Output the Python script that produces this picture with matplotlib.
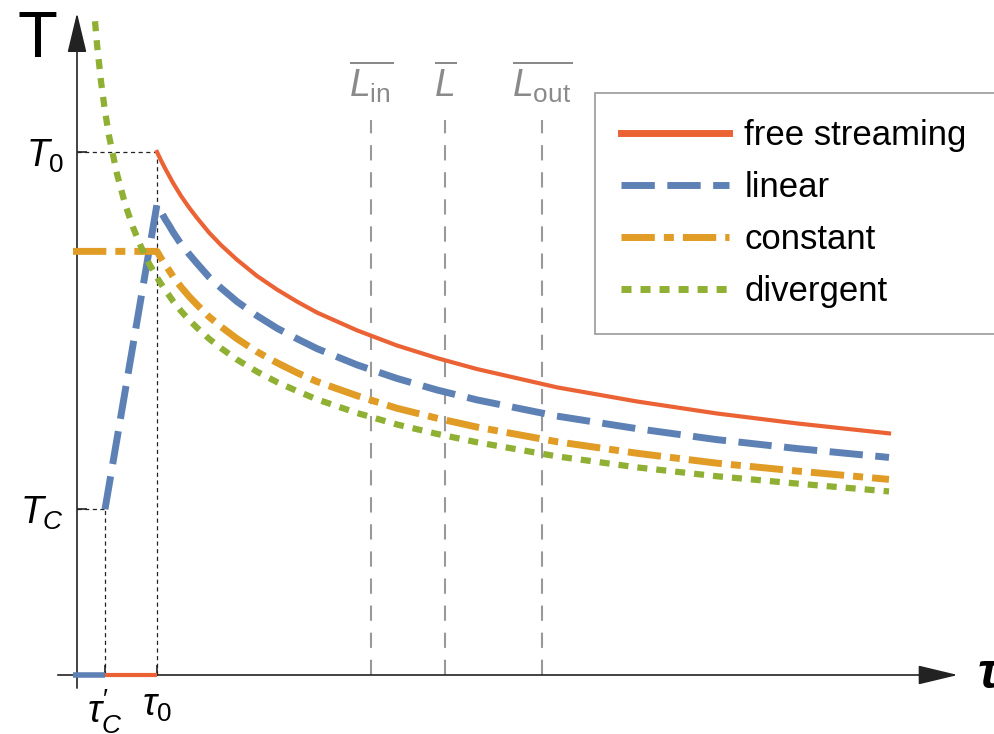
#coding: utf-8

import matplotlib
matplotlib.use('Agg')
import matplotlib.pyplot as plt

# characteristic times / temperatures (tau_0 = 1, T_0 = 1)
tau_0 = 1.0
tau_c = 0.35
T_0 = 1.0
T_c = 0.317

# positions of the vertical reference lines
L_pos = [3.675, 4.6, 5.81]
L_labels = [r'$\overline{L_{\rm in}}$', r'$\overline{L}$', r'$\overline{L_{\rm out}}$']

# times after tau_0, shared by all the decaying branches
tau_tail = [1.0, 1.05, 1.1, 1.15, 1.2, 1.3, 1.4, 1.5, 1.65, 1.8, 2.0, 2.25, 2.5, 2.75,
	3.0, 3.5, 4.0, 4.5, 5.0, 6.0, 7.0, 8.0, 9.0, 10.15]

T_free = [1.000, 0.984, 0.969, 0.955, 0.941, 0.916, 0.894, 0.874, 0.846, 0.822,
	0.794, 0.763, 0.737, 0.714, 0.693, 0.659, 0.630, 0.606, 0.585, 0.550,
	0.523, 0.500, 0.481, 0.462]
T_linear = [0.900, 0.886, 0.872, 0.860, 0.847, 0.824, 0.805, 0.787, 0.761, 0.740,
	0.714, 0.687, 0.663, 0.643, 0.624, 0.593, 0.567, 0.545, 0.526, 0.495,
	0.471, 0.450, 0.433, 0.416]
T_const = [0.810, 0.797, 0.785, 0.774, 0.762, 0.742, 0.724, 0.708, 0.685, 0.666,
	0.643, 0.618, 0.597, 0.578, 0.561, 0.534, 0.510, 0.491, 0.474, 0.446,
	0.424, 0.405, 0.390, 0.374]

# divergent branch, starting before tau_0
tau_div = [0.225, 0.25, 0.3, 0.35, 0.4, 0.5, 0.6, 0.7, 0.8, 0.9] + tau_tail
T_div = [1.250, 1.206, 1.135, 1.078, 1.031, 0.958, 0.901, 0.856, 0.819, 0.787,
	0.760, 0.748, 0.736, 0.726, 0.715, 0.696, 0.679, 0.664, 0.643, 0.625,
	0.603, 0.580, 0.560, 0.543, 0.527, 0.501, 0.479, 0.461, 0.445, 0.418,
	0.397, 0.380, 0.366, 0.351]

# early-time pieces
tau_lin_rise = [tau_c]
T_lin_rise = [T_c]
tau_const_early = [-0.05]
T_const_early = [0.810]

colors = {'free': '#EB6235', 'linear': '#5E81B5', 'const': '#E09C24', 'div': '#8FB032'}


def generate_plot(output):
	plt.rcParams['font.family'] = ['Liberation Sans', 'DejaVu Sans']
	plt.rcParams['mathtext.fontset'] = 'custom'
	plt.rcParams['mathtext.rm'] = 'Liberation Sans'
	plt.rcParams['mathtext.it'] = 'Liberation Sans:italic'
	plt.rcParams['mathtext.bf'] = 'Liberation Sans:bold'
	plt.rcParams['lines.scale_dashes'] = False

	fig = plt.figure(figsize=(9.95, 7.34), dpi=100)
	ax = fig.add_axes([0, 0, 1, 1])
	ax.set_xlim(-77 / 80, (995 - 77) / 80)
	ax.set_ylim((675 - 734) / 523, 675 / 523)

	for s in ax.spines.values():
		s.set_visible(False)
	ax.spines['left'].set_position(('data', 0))
	ax.spines['bottom'].set_position(('data', 0))

	# axes with arrows
	ax.annotate('', xy=(11.01, 0), xytext=(-0.24, 0),
		arrowprops=dict(arrowstyle='-|>,head_length=2.5,head_width=0.6', mutation_scale=10,
			lw=1.2, color='#222222', shrinkA=0, shrinkB=0))
	ax.annotate('', xy=(0, 1.266), xytext=(0, -0.025),
		arrowprops=dict(arrowstyle='-|>,head_length=2.5,head_width=0.6', mutation_scale=10,
			lw=1.2, color='#222222', shrinkA=0, shrinkB=0))

	# guide lines
	guide = dict(color='#222222', lw=0.9, ls=(0, (3, 2.5)), zorder=1)
	ax.plot([0, tau_0], [T_0, T_0], **guide)
	ax.plot([tau_0, tau_0], [0, T_0], **guide)
	ax.plot([0, tau_c], [T_c, T_c], **guide)
	ax.plot([tau_c, tau_c], [0, T_c], **guide)

	for x, lab in zip(L_pos, L_labels):
		ax.plot([x, x], [0, 1.061], color='#999999', lw=1.5, ls=(0, (11, 8.5)), zorder=1)
		ax.text(x, 1.105, lab, ha='center', va='baseline', fontsize=27, color='#8a8a8a')

	# curves
	ax.plot([-0.05, tau_c], [0, 0], color=colors['linear'], lw=4, solid_capstyle='butt', zorder=3)
	ax.plot([tau_c, tau_0], [0, 0], color=colors['free'], lw=3, solid_capstyle='butt', zorder=3)

	ax.plot(tau_tail, T_free, color=colors['free'], lw=3, label='free streaming', zorder=3)
	ax.plot(tau_lin_rise + tau_tail, T_lin_rise + T_linear, color=colors['linear'], lw=5,
		dashes=(24, 9), label='linear', zorder=3)
	ax.plot(tau_const_early + tau_tail, T_const_early + T_const, color=colors['const'], lw=5,
		dashes=(24, 6.5, 7.2, 6.5), label='constant', zorder=3)
	ax.plot(tau_div, T_div, color=colors['div'], lw=4.5, dashes=(7.2, 6.5), label='divergent', zorder=3)

	# ticks
	ax.set_xticks([tau_c, tau_0], [r'$\tau^{\prime}_{C}$', r'$\tau_0$'])
	ax.set_yticks([T_c, T_0], [r'$T_C$', r'$T_0$'])
	ax.tick_params(direction='in', length=7, width=1.2, color='#222222', labelsize=27, pad=9)

	# axis names
	fig.text(18 / 995, 1 - 57 / 734, 'T', fontsize=47, ha='left', va='baseline')
	fig.text(978 / 995, 1 - 688 / 734, 'τ', fontsize=36, style='italic', weight='bold',
		ha='left', va='baseline')

	leg = ax.legend(loc='upper left', bbox_to_anchor=(595 / 995, 1 - 93 / 734, 430 / 995, 0),
		bbox_transform=fig.transFigure, mode='expand', fontsize=25, handlelength=3.1,
		handletextpad=0.45, labelspacing=0.55, borderpad=0.75, borderaxespad=0,
		fancybox=False, edgecolor='#999999', framealpha=1)
	leg.get_frame().set_linewidth(1.2)
	for line in leg.get_lines():
		line.set_linewidth(5)

	fig.savefig(output, dpi=100)


if __name__ == "__main__":
	generate_plot('out.png')
	print('Done')
